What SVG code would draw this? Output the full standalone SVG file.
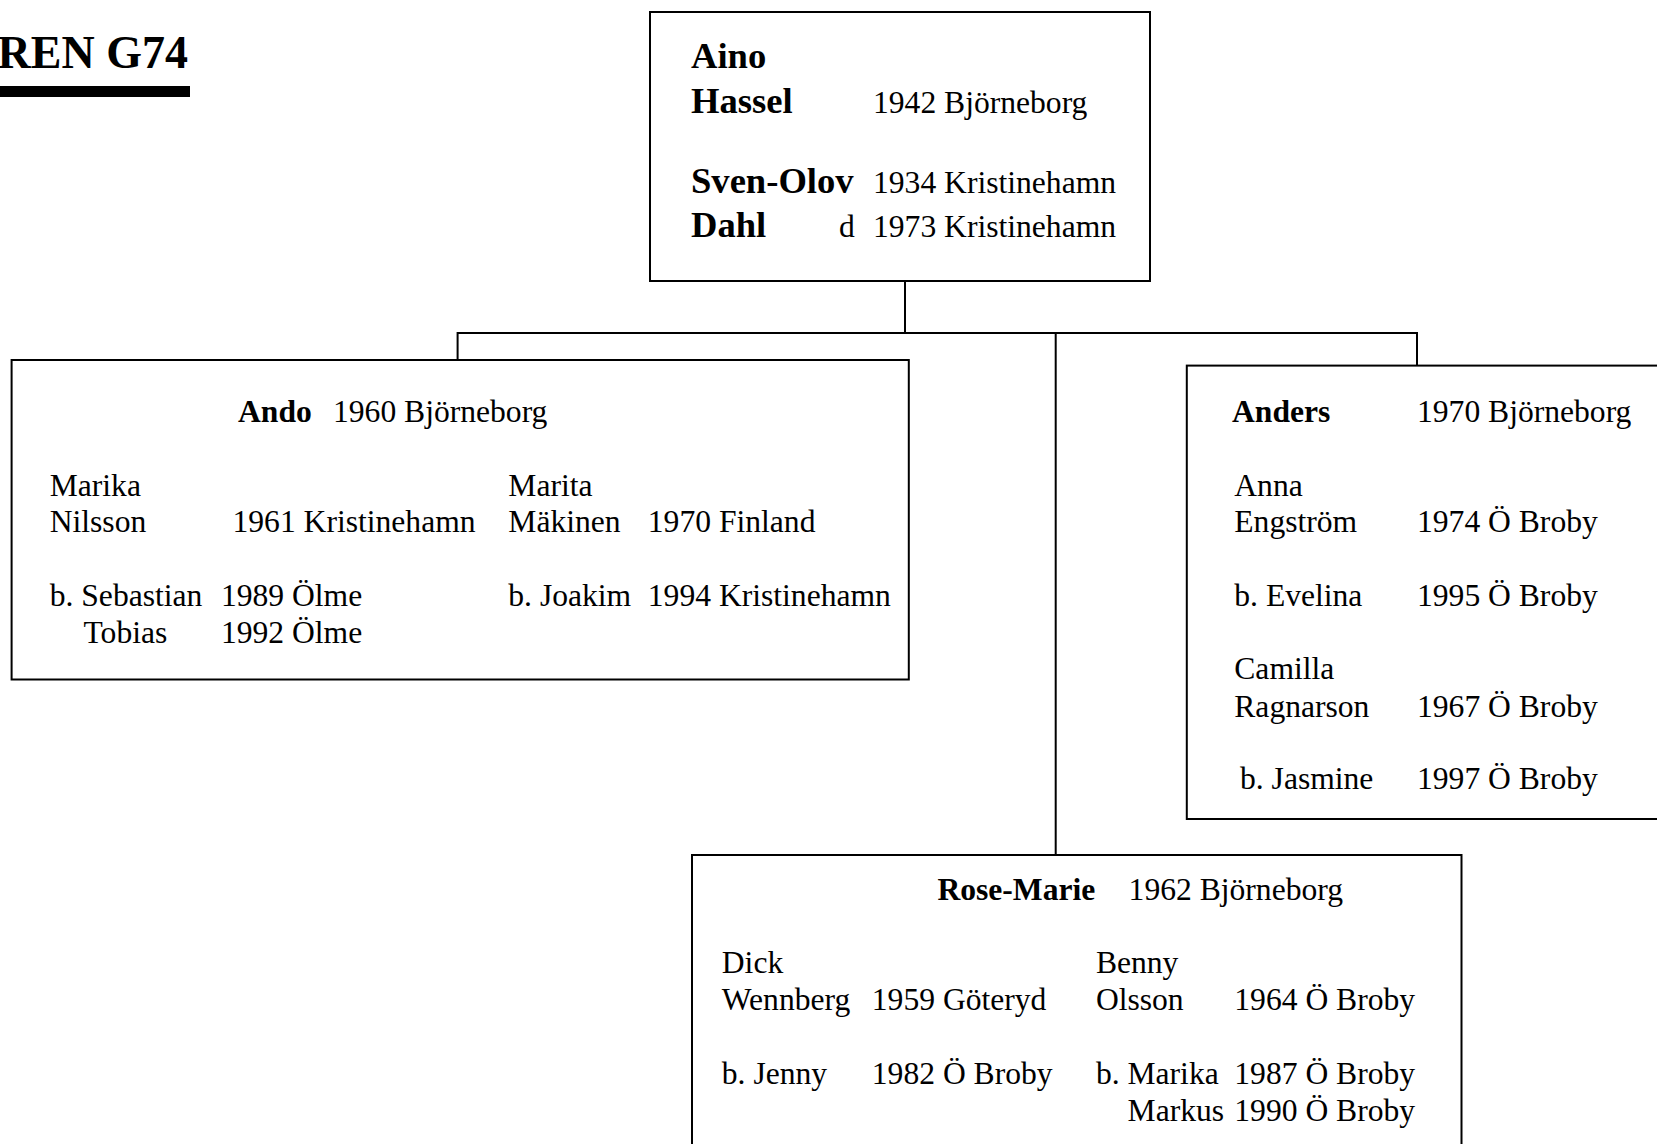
<svg xmlns="http://www.w3.org/2000/svg" width="1657" height="1144" viewBox="0 0 1657 1144">
<style>
text{font-family:"Liberation Serif","Times New Roman",serif;fill:#000}
.r{font-size:31.6px}
.b{font-size:31.6px;font-weight:bold}
.bt{font-size:36.6px;font-weight:bold}
.box{fill:#fff;stroke:#000;stroke-width:2}
.ln{stroke:#000;stroke-width:2;fill:none}
</style>
<rect width="1657" height="1144" fill="#fff"/>
<g id="title">
<text x="188" y="68" text-anchor="end" style="font-size:46px;font-weight:bold">REN G74</text>
<rect x="0" y="86" width="190" height="11" fill="#000"/>
</g>
<g id="connectors">
<path class="ln" d="M905,281V333M457.6,360V333H1417V365.6M1055.7,333V855"/>
</g>
<g id="parents">
<rect class="box" x="650" y="12" width="500" height="269"/>
<text class="bt" x="691" y="68">Aino</text>
<text class="bt" x="691" y="113">Hassel</text>
<text class="r" x="873" y="113">1942 Björneborg</text>
<text class="bt" x="691" y="193">Sven-Olov</text>
<text class="r" x="873" y="193">1934 Kristinehamn</text>
<text class="bt" x="691" y="237">Dahl</text>
<text class="r" x="839" y="237">d</text>
<text class="r" x="873" y="237">1973 Kristinehamn</text>
</g>
<g id="ando">
<rect class="box" x="11.6" y="360" width="897.2" height="319.5"/>
<text class="b" x="238" y="421.7">Ando</text>
<text class="r" x="333" y="421.7">1960 Björneborg</text>
<text class="r" x="49.7" y="495.6">Marika</text>
<text class="r" x="49.7" y="531.6">Nilsson</text>
<text class="r" x="232.5" y="531.6">1961 Kristinehamn</text>
<text class="r" x="508.3" y="495.6">Marita</text>
<text class="r" x="508.3" y="531.6">Mäkinen</text>
<text class="r" x="647.8" y="531.6">1970 Finland</text>
<text class="r" x="49.7" y="605.5">b. Sebastian</text>
<text class="r" x="220.9" y="605.5">1989 Ölme</text>
<text class="r" x="83.5" y="642.5">Tobias</text>
<text class="r" x="220.9" y="642.5">1992 Ölme</text>
<text class="r" x="508.3" y="605.5">b. Joakim</text>
<text class="r" x="647.8" y="605.5">1994 Kristinehamn</text>
</g>
<g id="anders">
<rect class="box" x="1186.8" y="365.6" width="480" height="453.4"/>
<text class="b" x="1232" y="421.7">Anders</text>
<text class="r" x="1417" y="421.7">1970 Björneborg</text>
<text class="r" x="1234.3" y="495.6">Anna</text>
<text class="r" x="1234.3" y="531.6">Engström</text>
<text class="r" x="1417" y="531.6">1974 Ö Broby</text>
<text class="r" x="1234.3" y="605.5">b. Evelina</text>
<text class="r" x="1417" y="605.5">1995 Ö Broby</text>
<text class="r" x="1234.3" y="678.5">Camilla</text>
<text class="r" x="1234.3" y="716.5">Ragnarson</text>
<text class="r" x="1417" y="716.5">1967 Ö Broby</text>
<text class="r" x="1240" y="788.5">b. Jasmine</text>
<text class="r" x="1417" y="788.5">1997 Ö Broby</text>
</g>
<g id="rosemarie">
<rect class="box" x="692" y="855" width="769.5" height="300"/>
<text class="b" x="937.4" y="900.4">Rose-Marie</text>
<text class="r" x="1128.6" y="900.4">1962 Björneborg</text>
<text class="r" x="721.8" y="973.3">Dick</text>
<text class="r" x="721.8" y="1010.3">Wennberg</text>
<text class="r" x="871.8" y="1010.3">1959 Göteryd</text>
<text class="r" x="1095.9" y="973.3">Benny</text>
<text class="r" x="1095.9" y="1010.3">Olsson</text>
<text class="r" x="1234.3" y="1010.3">1964 Ö Broby</text>
<text class="r" x="721.8" y="1084.3">b. Jenny</text>
<text class="r" x="871.8" y="1084.3">1982 Ö Broby</text>
<text class="r" x="1095.9" y="1084.3">b. Marika</text>
<text class="r" x="1234.3" y="1084.3">1987 Ö Broby</text>
<text class="r" x="1127.6" y="1121.3">Markus</text>
<text class="r" x="1234.3" y="1121.3">1990 Ö Broby</text>
</g>
</svg>
